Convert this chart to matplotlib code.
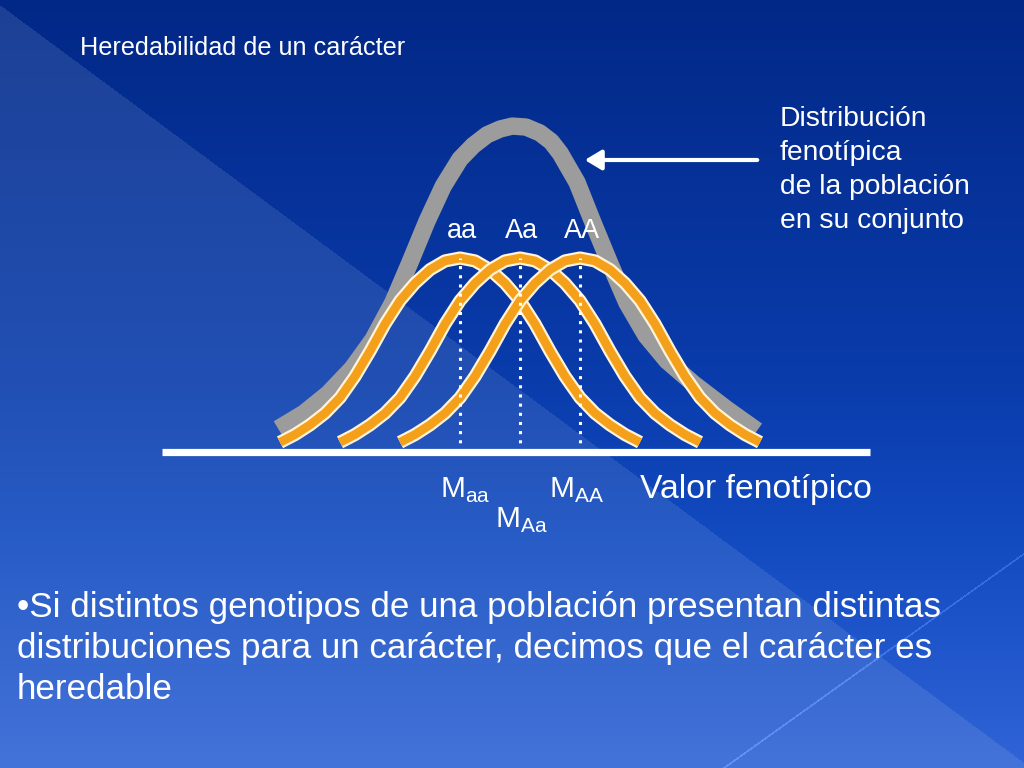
import numpy as np
import matplotlib
matplotlib.use("Agg")
import matplotlib.pyplot as plt

plt.rcParams['font.family'] = ['Liberation Sans', 'DejaVu Sans']
plt.rcParams['mathtext.fontset'] = 'custom'
plt.rcParams['mathtext.rm'] = 'Liberation Sans'

# genotype classes and their mean phenotypic value (units: Aa mean = 0)
genotypes = ['aa', 'Aa', 'AA']
genotype_means = [-1.0, 0.0, 1.0]

# half profile of one genotype distribution (peak = 1)
profile_offset = [0.0, 0.25, 0.5, 0.75, 1.0, 1.25, 1.5, 1.75, 2.0, 2.25, 2.5, 2.75, 3.0]
profile_height = [1.0, 0.985, 0.94, 0.87, 0.78, 0.66, 0.52, 0.39, 0.28, 0.20, 0.14, 0.09, 0.05]

# whole population distribution (grey curve)
pop_x = [-4.03, -3.6, -3.2, -2.8, -2.45, -2.12, -1.83, -1.55, -1.28, -1.0, -0.78, -0.55,
         -0.33, -0.13, 0.1, 0.33, 0.52, 0.67, 0.95, 1.22, 1.5, 1.78, 2.1, 2.45, 2.9, 3.45, 3.95]
pop_h = [0.12, 0.20, 0.30, 0.43, 0.58, 0.77, 0.98, 1.19, 1.37, 1.51, 1.58, 1.635,
         1.665, 1.68, 1.675, 1.645, 1.6, 1.54, 1.39, 1.18, 0.97, 0.77, 0.60, 0.47, 0.35, 0.22, 0.11]

mean_labels = [r'$\mathrm{M}_{\mathrm{aa}}$', r'$\mathrm{M}_{\mathrm{Aa}}$', r'$\mathrm{M}_{\mathrm{AA}}$']

title = "Heredabilidad de un carácter"
note_lines = ["Distribución", "fenotípica", "de la población", "en su conjunto"]
axis_label = "Valor fenotípico"
bullet_lines = ["•Si distintos genotipos de una población presentan distintas",
                "distribuciones para un carácter, decimos que el carácter es",
                "heredable"]

W, H = 1024, 768
fig = plt.figure(figsize=(W / 100, H / 100), dpi=100)

# ---- background: blue slide gradient with a lighter diagonal band
yy, xx = np.mgrid[0:H, 0:W].astype(float)
t = yy / (H - 1)
stops = [0.0, 0.5, 0.7, 1.0]
dark = np.stack([np.interp(t, stops, [2, 10, 18, 48]),
                 np.interp(t, stops, [40, 60, 74, 100]),
                 np.interp(t, stops, [135, 172, 192, 215])], axis=-1)
low_left = (yy > 5 + xx * 0.74)[..., None]
light_add = np.stack([26 - 6 * t, 24 - 9 * t, 14 - 12 * t], axis=-1)
bg = dark + low_left * light_add
# faint thin line in bottom right corner
d = np.abs((yy - 553) + (xx - 1024) * 0.714) / np.sqrt(1 + 0.714 ** 2)
bg = bg + (d < 0.9)[..., None] * 30
bg = np.clip(bg, 0, 255) / 255.0

ax_bg = fig.add_axes([0, 0, 1, 1])
ax_bg.imshow(bg, extent=(0, W, H, 0), aspect='auto', interpolation='bilinear')
ax_bg.set_xlim(0, W)
ax_bg.set_ylim(H, 0)
ax_bg.axis('off')

# ---- chart axes: 60 px per phenotype unit, 194 px per height unit
x0, x1, yb, yt = 162, 870, 452, 100
ax = fig.add_axes([x0 / W, 1 - yb / H, (x1 - x0) / W, (yb - yt) / H])
ax.set_xlim((x0 - 520) / 60, (x1 - 520) / 60)
ax.set_ylim(0, (yb - yt) / 194)
ax.patch.set_alpha(0)
ax.axis('off')

ax.plot(pop_x, pop_h, color='#9c9c9c', lw=12.5, solid_joinstyle='round',
        solid_capstyle='butt', zorder=2)

off = np.array(profile_offset)
hh = np.array(profile_height)
for m in genotype_means:
    cx = np.concatenate([m - off[::-1], m + off[1:]])
    cy = np.concatenate([hh[::-1], hh[1:]])
    ax.plot(cx, cy, color='#fff4d8', lw=9.5, solid_joinstyle='round',
            solid_capstyle='butt', zorder=3)
    ax.plot(cx, cy, color='#f5a01a', lw=6.3, solid_joinstyle='round',
            solid_capstyle='butt', zorder=3)

for m in genotype_means:
    ax.plot([m, m], [0, profile_height[0]], color='white', lw=2.2,
            linestyle=(0, (1, 2)), dash_capstyle='butt', zorder=4)

ax.axhline(0, color='white', lw=5.2, zorder=5, clip_on=False, solid_capstyle='butt')

# genotype labels above the peaks
for g, m in zip(genotypes, genotype_means):
    ax.text(m + 0.03, 1.105, g, color='white', fontsize=19.5, ha='center', va='baseline')

# ---- text and arrow in pixel coordinates
ax_bg.text(80, 55, title, color='white', fontsize=18.2, ha='left', va='baseline')
for i, line in enumerate(note_lines):
    ax_bg.text(780, 126 + 34 * i, line, color='white', fontsize=20.3, ha='left', va='baseline')
ax_bg.annotate('', xy=(582, 160), xytext=(760, 160),
               arrowprops=dict(arrowstyle='-|>,head_length=0.5,head_width=0.3',
                               color='white', lw=3, mutation_scale=20))

label_pos = [(440, 498), (495, 528), (549, 498)]
for lab, (px, py) in zip(mean_labels, label_pos):
    ax_bg.text(px, py, lab, color='white', fontsize=21.5, ha='left', va='baseline')
ax_bg.text(640, 498, axis_label, color='white', fontsize=24.3, ha='left', va='baseline')

for i, line in enumerate(bullet_lines):
    ax_bg.text(17, 617 + 41 * i, line, color='white', fontsize=25.2, ha='left', va='baseline')

fig.savefig('out.png', dpi=100)
